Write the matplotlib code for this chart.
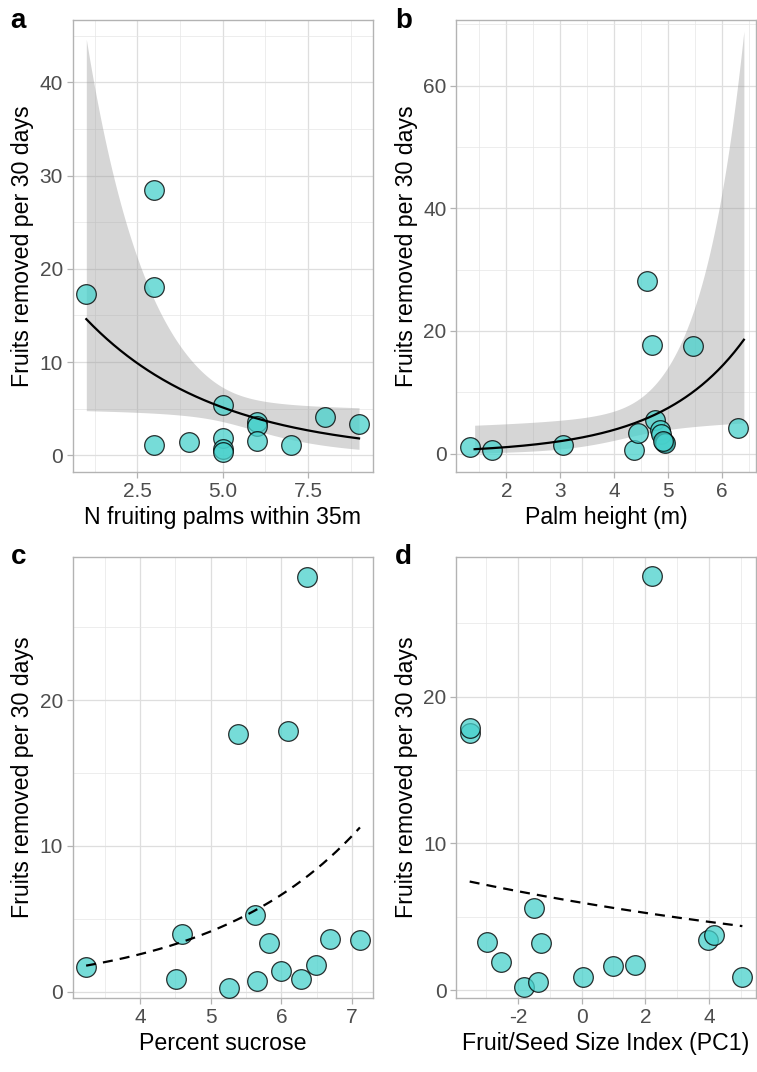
import numpy as np
import matplotlib
matplotlib.use('Agg')
from matplotlib import pyplot as plt
from matplotlib.ticker import MultipleLocator, FormatStrFormatter

plt.rcParams['font.family'] = ['Liberation Sans', 'DejaVu Sans']
plt.rcParams['axes.unicode_minus'] = False

y_title = 'Fruits removed per 30 days'

# a: number of fruiting palms within 35 m
palms_n = [1, 3, 3, 3, 4, 5, 5, 5, 5, 6, 6, 6, 7, 8, 9]
palms_removed = [17.3, 28.5, 18.0, 1.1, 1.4, 5.4, 1.9, 0.7, 0.3, 3.6, 3.1, 1.5, 1.1, 4.1, 3.3]

# b: palm height (m)
height_m = [1.32, 1.73, 3.05, 4.37, 4.45, 4.62, 4.71, 4.76, 4.85, 4.88, 4.92, 4.95, 5.46, 6.30, 4.90]
height_removed = [1.0, 0.6, 1.45, 0.6, 3.4, 28.1, 17.7, 5.5, 3.8, 3.2, 1.9, 1.8, 17.5, 4.2, 2.0]

# c: percent sucrose
sucrose_pct = [3.24, 4.51, 4.60, 5.26, 5.39, 5.63, 5.65, 5.83, 5.99, 6.10, 6.28, 6.36, 6.49, 6.69, 7.11]
sucrose_removed = [1.7, 0.87, 3.98, 0.3, 17.7, 5.26, 0.77, 3.35, 1.4, 17.85, 0.87, 28.45, 1.87, 3.63, 3.56]

# d: fruit/seed size index (PC1)
pc1 = [-3.52, -3.52, -2.97, -2.54, -1.82, -1.51, -1.29, -1.37, 0.05, 0.99, 1.69, 2.21, 3.98, 4.15, 5.05]
pc1_removed = [17.55, 17.85, 3.3, 1.9, 0.19, 5.58, 3.2, 0.58, 0.88, 1.63, 1.74, 28.2, 3.42, 3.79, 0.93]

# log-link GLM fits: (intercept, slope), link-scale covariance (v00, v01, v11), x span
palms_coef, palms_vcov, palms_span = (2.943, -0.2616), (0.4827, -0.0874, 0.01694), (1, 9)
height_coef, height_vcov, height_span = (-1.245, 0.65), (1.8656, -0.4074, 0.0926), (1.41, 6.41)
sucrose_coef, sucrose_span = (-0.948, 0.474), (3.24, 7.11)
pc1_coef, pc1_span = (1.785, -0.0616), (-3.52, 5.05)

fill_col = (0.282, 0.820, 0.800, 0.75)
edge_col = (0.0, 0.0, 0.0, 0.8)


def style_axes(ax, xlim, ylim, xmajor, ymajor):
    ax.set_xlim(*xlim)
    ax.set_ylim(*ylim)
    ax.xaxis.set_major_locator(MultipleLocator(xmajor))
    ax.xaxis.set_minor_locator(MultipleLocator(xmajor / 2))
    ax.yaxis.set_major_locator(MultipleLocator(ymajor))
    ax.yaxis.set_minor_locator(MultipleLocator(ymajor / 2))
    ax.set_axisbelow(True)
    ax.grid(which='major', color='#DEDEDE', lw=0.9)
    ax.grid(which='minor', color='#E6E6E6', lw=0.5)
    for s in ax.spines.values():
        s.set_color('#B3B3B3')
        s.set_linewidth(1.0)
    ax.tick_params(which='major', color='#B3B3B3', length=4, width=0.9,
                   labelsize=15, labelcolor='#4D4D4D', pad=3)
    ax.tick_params(which='minor', length=0)


def draw_panel(ax, x, y, coef, span, vcov=None, dashed=False):
    xs = np.linspace(span[0], span[1], 200)
    eta = coef[0] + coef[1] * xs
    if vcov is not None:
        se = np.sqrt(vcov[0] + 2 * vcov[1] * xs + vcov[2] * xs ** 2)
        ax.fill_between(xs, np.exp(eta - 1.96 * se), np.exp(eta + 1.96 * se),
                        color='#999999', alpha=0.4, lw=0, zorder=2)
    ax.scatter(x, y, s=200, facecolor=fill_col, edgecolor=edge_col,
               linewidths=0.9, zorder=3)
    if dashed:
        ax.plot(xs, np.exp(eta), color='black', lw=1.6, ls=(0, (4.5, 3.2)), zorder=4)
    else:
        ax.plot(xs, np.exp(eta), color='black', lw=1.6, zorder=4)


fig = plt.figure(figsize=(7.57, 10.72), dpi=100)

ax_a = fig.add_axes([0.0960, 0.5597, 0.3963, 0.4216])
ax_b = fig.add_axes([0.6028, 0.5597, 0.3955, 0.4216])
ax_c = fig.add_axes([0.0960, 0.0690, 0.3963, 0.4114])
ax_d = fig.add_axes([0.6028, 0.0690, 0.3955, 0.4114])

draw_panel(ax_a, palms_n, palms_removed, palms_coef, palms_span, palms_vcov)
style_axes(ax_a, (0.6, 9.4), (-1.8, 46.7), 2.5, 10)
ax_a.xaxis.set_major_formatter(FormatStrFormatter('%.1f'))
ax_a.set_xlabel('N fruiting palms within 35m', fontsize=16.7, labelpad=4)

draw_panel(ax_b, height_m, height_removed, height_coef, height_span, height_vcov)
style_axes(ax_b, (1.07, 6.63), (-3.0, 70.7), 1, 20)
ax_b.set_xlabel('Palm height (m)', fontsize=16.7, labelpad=4)

draw_panel(ax_c, sucrose_pct, sucrose_removed, sucrose_coef, sucrose_span, dashed=True)
style_axes(ax_c, (3.05, 7.29), (-0.42, 29.8), 1, 10)
ax_c.set_xlabel('Percent sucrose', fontsize=16.7, labelpad=4)

draw_panel(ax_d, pc1, pc1_removed, pc1_coef, pc1_span, dashed=True)
style_axes(ax_d, (-3.94, 5.47), (-0.53, 29.5), 2, 10)
ax_d.set_xlabel('Fruit/Seed Size Index (PC1)', fontsize=16.7, labelpad=4)

for ax in (ax_a, ax_b, ax_c, ax_d):
    ax.set_ylabel(y_title, fontsize=16.7, labelpad=4)

for lab, (fx, fy) in zip('abcd', [(0.014, 0.9736), (0.522, 0.9736),
                                  (0.014, 0.4736), (0.522, 0.4736)]):
    fig.text(fx, fy, lab, fontsize=20, fontweight='bold', ha='left', va='baseline')

fig.savefig('out.png', dpi=100)
